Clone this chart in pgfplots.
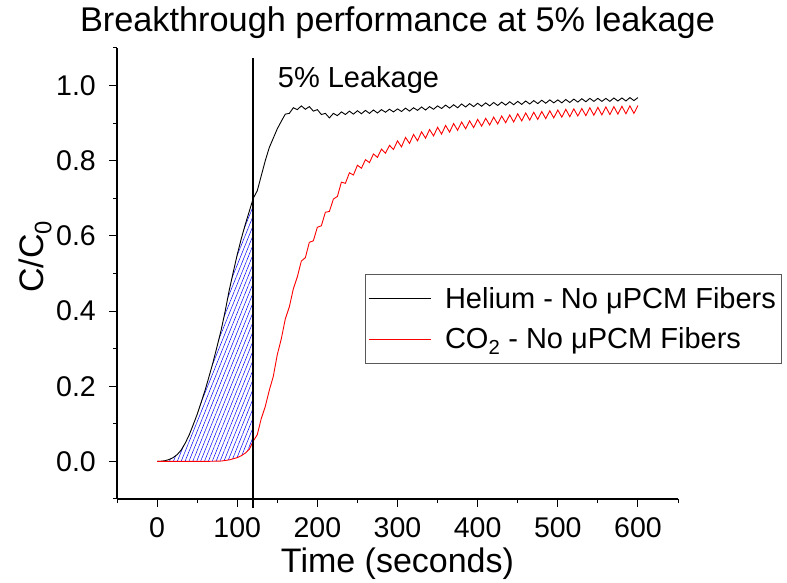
\documentclass[border=0pt]{standalone}
\usepackage{fontspec}
\setmainfont{Liberation Sans}
\usepackage{pgfplots}
\pgfplotsset{compat=1.18}
\usepgfplotslibrary{fillbetween}
\usetikzlibrary{patterns.meta}
\begin{document}
\begin{tikzpicture}
\begin{axis}[
  name=ax,
  set layers,
  width=561pt, height=451pt, scale only axis,
  xmin=-50, xmax=650, ymin=-0.1, ymax=1.1,
  clip=false,
  axis lines=left,
  axis line style={-, line width=1.1pt},
  tick align=outside,
  major tick length=8pt, minor tick length=4pt,
  tick style={black, line width=1pt},
  xtick={0,100,200,300,400,500,600},
  minor xtick={-50,50,150,250,350,450,550,650},
  ytick={0,0.2,0.4,0.6,0.8,1.0},
  minor ytick={-0.1,0.1,0.3,0.5,0.7,0.9,1.1},
  /pgf/number format/assume math mode=true,
  ticklabel style={font=\fontsize{28.5}{30}\selectfont, inner sep=0pt},
  xticklabel style={anchor=base, yshift=-31pt},
  yticklabel style={anchor=east, xshift=-13pt, /pgf/number format/.cd, fixed, fixed zerofill, precision=1},
  xlabel={Time (seconds)},
  ylabel={C/C\textsubscript{0}},
  xlabel style={font=\fontsize{34}{36}\selectfont, at={(axis description cs:0.5,-0.162)}, anchor=base, inner sep=0pt},
  ylabel style={font=\fontsize{34}{36}\selectfont, at={(axis description cs:-0.146,0.537)}, anchor=center, inner sep=0pt},
  title={Breakthrough performance at 5\% leakage},
  title style={font=\fontsize{34.3}{36}\selectfont, at={(axis description cs:0.5,1.024)}, anchor=base, inner sep=0pt},
  legend style={at={(rel axis cs:0.442,0.499)}, anchor=north west, draw=gray!70!black, line width=0.7pt,
    font=\fontsize{29}{32}\selectfont, inner xsep=3pt, inner ysep=11pt, row sep=14pt,
    nodes={inner sep=2pt}, cells={anchor=west}, column sep=12pt},
  legend image code/.code={\draw[#1, line width=0.7pt] (0pt,0pt) -- (62pt,0pt);},
]
\addplot[name path=he, black, line width=0.9pt] coordinates {
(0,0) (5,0.0005) (10,0.002) (15,0.005) (20,0.01) (25,0.018) (30,0.03) (35,0.048) (40,0.07)
(45,0.097) (50,0.125) (55,0.157) (60,0.19) (65,0.227) (70,0.265) (75,0.307) (80,0.35)
(85,0.40) (90,0.455) (95,0.503) (100,0.55) (105,0.592) (110,0.63) (115,0.665) (120,0.70)
(125,0.72) (130,0.76) (135,0.80) (140,0.835) (145,0.86) (150,0.885) (155,0.905)
(160,0.924) (165,0.926) (170,0.941) (175,0.936) (180,0.946) (185,0.937) (190,0.944) (195,0.932)
(200,0.936) (205,0.923) (210,0.926) (215,0.914) (220,0.926) (225,0.920) (230,0.930) (235,0.923)
(240,0.932) (245,0.924) (250,0.933) (255,0.925) (260,0.934) (265,0.926) (270,0.935) (275,0.927)
(280,0.936) (285,0.929) (290,0.937) (295,0.930) (300,0.938) (305,0.931) (310,0.940) (315,0.932)
(320,0.941) (325,0.934) (330,0.943) (335,0.935) (340,0.944) (345,0.937) (350,0.946) (355,0.939)
(360,0.948) (365,0.940) (370,0.949) (375,0.941) (380,0.951) (385,0.943) (390,0.952) (395,0.944)
(400,0.953) (405,0.945) (410,0.954) (415,0.946) (420,0.955) (425,0.947) (430,0.956) (435,0.948)
(440,0.957) (445,0.949) (450,0.958) (455,0.950) (460,0.959) (465,0.951) (470,0.960) (475,0.952)
(480,0.961) (485,0.953) (490,0.962) (495,0.954) (500,0.962) (505,0.954) (510,0.963) (515,0.955)
(520,0.964) (525,0.956) (530,0.965) (535,0.957) (540,0.966) (545,0.958) (550,0.966) (555,0.958)
(560,0.966) (565,0.958) (570,0.967) (575,0.959) (580,0.967) (585,0.959) (590,0.968) (595,0.960)
(600,0.968)
};
\addlegendentry{Helium - No μPCM Fibers}
\addplot[name path=co, red, line width=0.9pt] coordinates {
(0,0) (20,0) (40,0) (60,0) (70,0.0005) (80,0.001) (90,0.004) (100,0.01) (105,0.015) (110,0.022) (115,0.032)
(120,0.054) (125,0.071) (130,0.114) (135,0.146) (140,0.189) (145,0.226) (150,0.284) (155,0.326)
(160,0.379) (165,0.411) (170,0.459) (175,0.491) (180,0.533) (185,0.542) (190,0.583) (195,0.587)
(200,0.623) (205,0.627) (210,0.663) (215,0.665) (220,0.698) (225,0.705) (230,0.743) (235,0.740)
(240,0.768) (245,0.762) (250,0.788) (255,0.780) (260,0.803) (265,0.795) (270,0.818) (275,0.809)
(280,0.831) (285,0.820) (290,0.841) (295,0.830) (300,0.853) (305,0.837) (310,0.862) (315,0.846)
(320,0.870) (325,0.853) (330,0.877) (335,0.860) (340,0.883) (345,0.866) (350,0.889) (355,0.871)
(360,0.894) (365,0.876) (370,0.899) (375,0.881) (380,0.903) (385,0.885) (390,0.906) (395,0.888)
(400,0.910) (405,0.892) (410,0.913) (415,0.895) (420,0.916) (425,0.898) (430,0.919) (435,0.901)
(440,0.922) (445,0.903) (450,0.925) (455,0.906) (460,0.927) (465,0.908) (470,0.929) (475,0.910)
(480,0.931) (485,0.912) (490,0.933) (495,0.914) (500,0.935) (505,0.916) (510,0.937) (515,0.917)
(520,0.938) (525,0.919) (530,0.939) (535,0.920) (540,0.941) (545,0.921) (550,0.942) (555,0.922)
(560,0.943) (565,0.923) (570,0.944) (575,0.924) (580,0.945) (585,0.925) (590,0.946) (595,0.926)
(600,0.947)
};
\addlegendentry{CO\textsubscript{2} - No μPCM Fibers}
\addplot[forget plot, pattern={Lines[angle=68, distance=3.6pt, line width=0.5pt]}, pattern color=blue, draw=none]
  fill between[of=he and co, soft clip={domain=0:120}];
\addplot[forget plot, black, line width=2pt] coordinates {(120,-0.124) (120,1.074)};
\node[anchor=base west, inner sep=0pt, font=\fontsize{29}{32}\selectfont] at (axis cs:150.5,0.995) {5\% Leakage};
\end{axis}
\pgfresetboundingbox
\path[use as bounding box] (-117pt,-84pt) rectangle (670pt,499pt);
\end{tikzpicture}
\end{document}
